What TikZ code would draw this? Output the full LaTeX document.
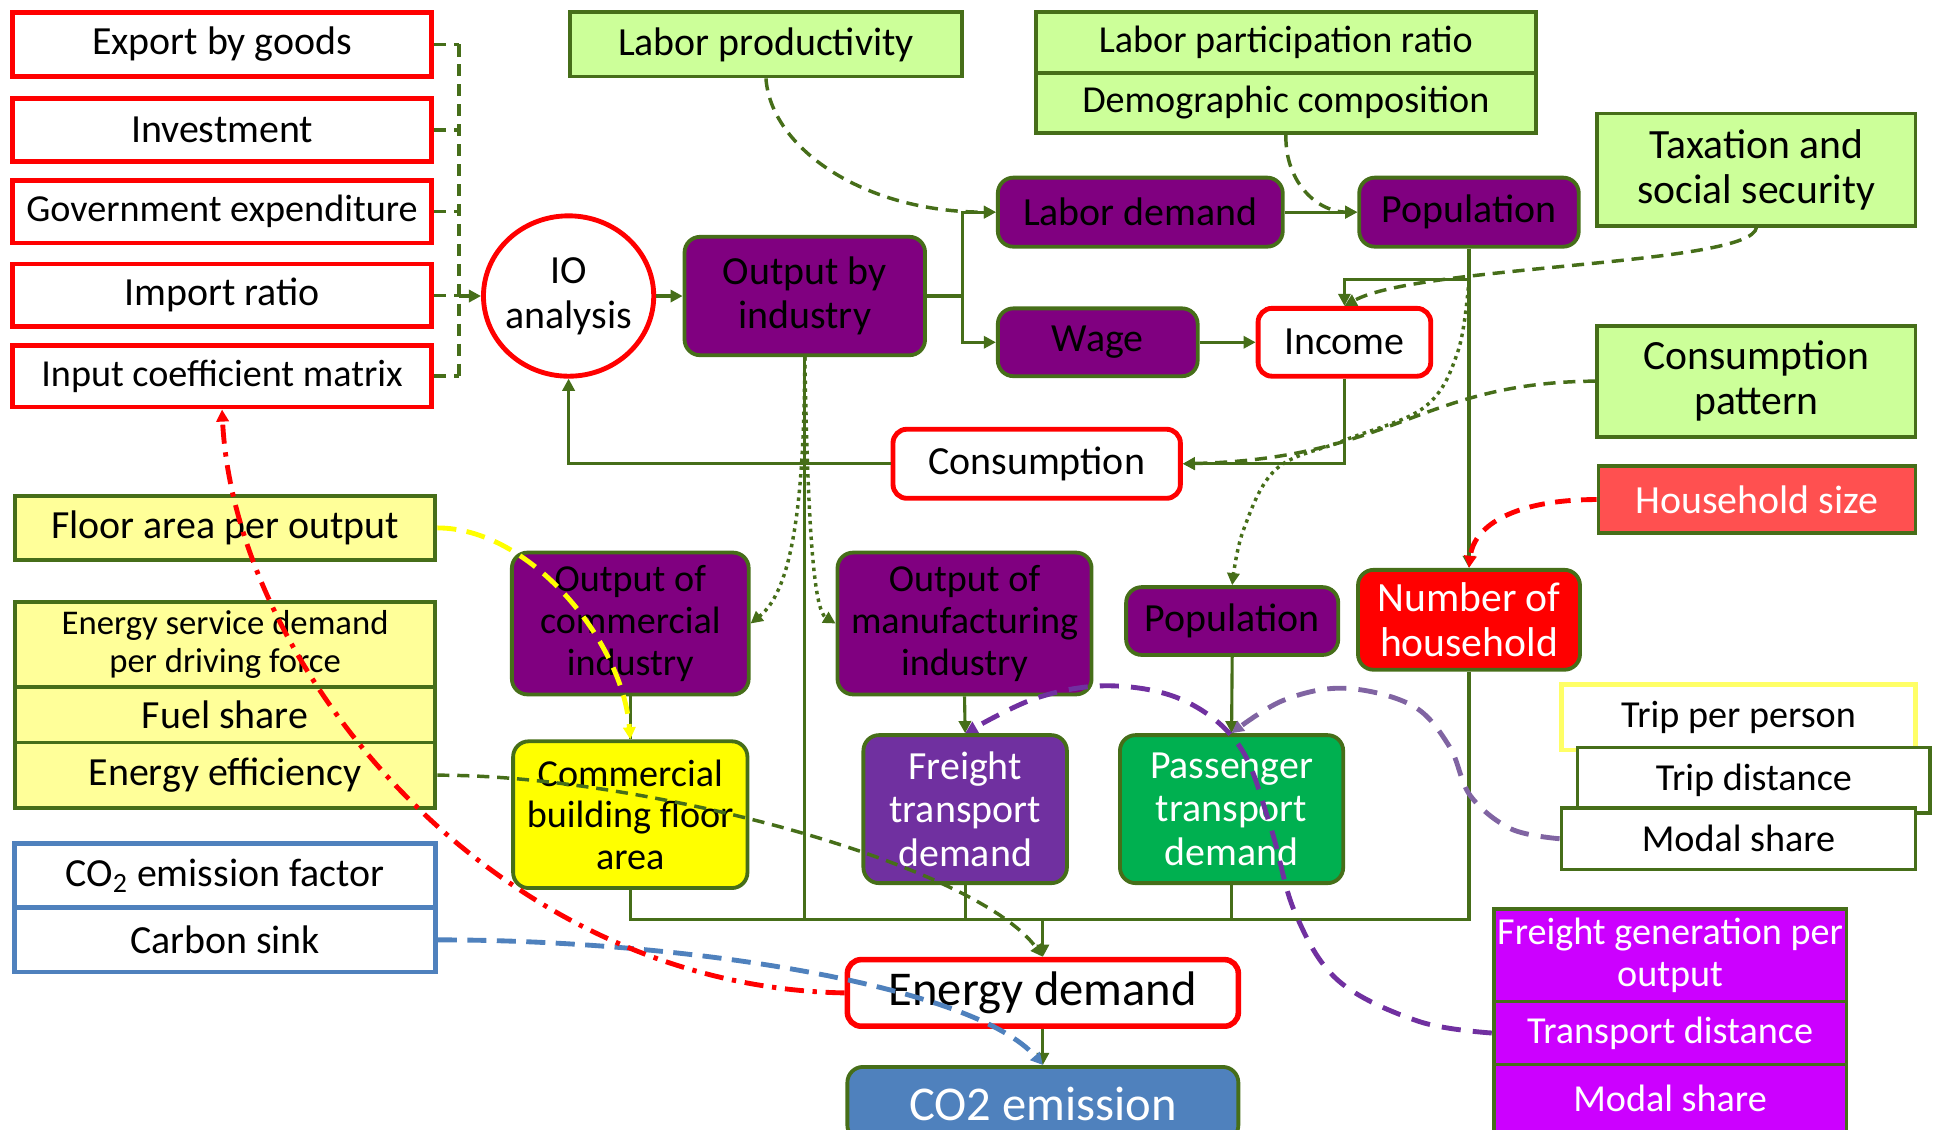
\documentclass[tikz,border=0pt]{standalone}
\usepackage{fontspec}
\setmainfont{Carlito}
\usetikzlibrary{arrows.meta,shapes.geometric}
\definecolor{lg}{RGB}{70,110,25}
\definecolor{lgfill}{HTML}{CCFF99}
\definecolor{purp}{HTML}{800080}
\definecolor{ly}{HTML}{FFFF99}
\definecolor{yel}{HTML}{FFFF00}
\definecolor{frp}{HTML}{7030A0}
\definecolor{psg}{HTML}{00B050}
\definecolor{mag}{HTML}{CC00FF}
\definecolor{hhs}{HTML}{FF5050}
\definecolor{rd}{HTML}{FF0000}
\definecolor{blu}{HTML}{4F81BD}
\definecolor{lpur}{HTML}{8064A2}
\definecolor{tpy}{HTML}{FFFF66}
% #1 style, #2 name, #3 x1, #4 y1, #5 x2, #6 y2, #7 text
\newcommand\mkbox[7]{%
  \node[#1, minimum width={(#5-#3)*0.025cm}, minimum height={(#6-#4)*0.025cm}]
    (#2) at ({(#3+#5)/2},{(#4+#6)/2}) {#7};}
\begin{document}
\begin{tikzpicture}[x=0.025cm, y=-0.025cm,
  base/.style={inner sep=0pt, align=center, font=\fontsize{23}{25}\selectfont, text=black},
  fsmall/.style={font=\fontsize{20}{22}\selectfont},
  fmid/.style={font=\fontsize{22}{24}\selectfont},
  fbig/.style={font=\fontsize{24}{26}\selectfont},
  fhuge/.style={font=\fontsize{28}{30}\selectfont},
  redsq/.style={base, draw=rd, line width=2.8pt, fill=white},
  redrd/.style={redsq, rounded corners=8pt},
  gsq/.style={base, draw=lg, line width=2.2pt},
  grd/.style={gsq, rounded corners=9pt},
  lgbox/.style={gsq, fill=lgfill},
  lybox/.style={gsq, fill=ly},
  blbox/.style={base, draw=blu, line width=2.8pt, fill=white},
  purbox/.style={grd, fill=purp},
  magbox/.style={gsq, fill=mag, text=white, fmid},
  conn/.style={draw=lg, line width=1.8pt},
  tip/.style={-{Triangle[length=7pt,width=7pt]}},
  dsh/.style={conn, line width=2pt, dash pattern=on 7pt off 4.5pt},
  dots/.style={conn, line width=2pt, dash pattern=on 2pt off 2.5pt},
  ydash/.style={draw=yel, line width=2.8pt, dash pattern=on 11pt off 6pt},
  bdash/.style={draw=blu, line width=2.8pt, dash pattern=on 11pt off 6pt},
  rdd/.style={draw=rd, line width=2.8pt, dash pattern=on 11pt off 5pt on 2.5pt off 5pt},
  rdash/.style={draw=rd, line width=2.8pt, dash pattern=on 9pt off 6pt},
  pdash/.style={draw=frp, line width=2.8pt, dash pattern=on 11pt off 7pt},
  lpdash/.style={draw=lpur, line width=2.8pt, dash pattern=on 11pt off 7pt}
]
\useasboundingbox (0,0) rectangle (1568,916);

% ---------- nodes ----------
\mkbox{redsq}{exp}{10}{10}{350}{62}{Export by goods}
\mkbox{redsq}{inv}{10}{80}{350}{131}{Investment}
\mkbox{redsq,fmid}{gov}{10}{146}{350}{197}{Government expenditure}
\mkbox{redsq}{imp}{10}{214}{350}{265}{Import ratio}
\mkbox{redsq,fmid}{icm}{10}{280}{350}{330}{Input coefficient matrix}
\node[ellipse, draw=rd, line width=2.8pt, fill=white, inner sep=0pt, minimum width=3.45cm, minimum height=3.25cm] (io) at (461,240) {};
\node[base, font=\fontsize{23}{26}\selectfont] (iot) at (io.center) {IO\\analysis};
\mkbox{purbox}{obi}{555}{192}{750}{288}{Output by\\industry}
\mkbox{lgbox}{lp}{462}{10}{780}{62}{Labor productivity}
\mkbox{lgbox,fmid}{lpr}{840}{10}{1245}{59}{Labor participation ratio}
\mkbox{lgbox,fmid}{dc}{840}{59}{1245}{108}{Demographic composition}
\mkbox{purbox}{ld}{809}{144}{1040}{200}{Labor demand}
\mkbox{purbox}{pop1}{1102}{144}{1280}{200}{Population}
\mkbox{purbox}{wage}{809}{250}{971}{305}{Wage}
\mkbox{redrd}{inc}{1020}{250}{1160}{305}{Income}
\mkbox{lgbox,fbig}{tax}{1295}{92}{1553}{183}{Taxation and\\social security}
\mkbox{lgbox,fbig}{cp}{1295}{264}{1553}{354}{Consumption\\pattern}
\mkbox{gsq,fill=hhs,text=white}{hs}{1296}{378}{1553}{432}{Household size}
\mkbox{redrd}{cons}{724}{348}{957}{404}{Consumption}
\mkbox{grd,fill=rd,text=white,fbig}{nh}{1101}{462}{1281}{543}{Number of\\household}
\mkbox{lybox}{fa}{12}{402}{353}{454}{Floor area per output}
\mkbox{lybox,fsmall}{esd}{12}{488}{353}{557}{Energy service demand\\per driving force}
\mkbox{lybox}{fs}{12}{557}{353}{602}{Fuel share}
\mkbox{lybox}{ee}{12}{602}{353}{655}{Energy efficiency}
\mkbox{blbox}{cef}{12}{684}{353}{736}{CO\textsubscript{2} emission factor}
\mkbox{blbox}{cs}{12}{736}{353}{788}{Carbon sink}
\mkbox{purbox,fmid}{ocomm}{415}{448}{607}{563}{Output of\\commercial\\industry}
\mkbox{purbox,fmid}{omfg}{679}{448}{885}{563}{Output of\\manufacturing\\industry}
\mkbox{purbox}{pop2}{913}{476}{1085}{531}{Population}
\mkbox{grd,fill=yel,fmid}{cb}{416}{601}{606}{720}{Commercial\\building floor\\area}
\mkbox{grd,fill=frp,text=white}{fr}{700}{596}{865}{716}{Freight\\transport\\demand}
\mkbox{grd,fill=psg,text=white}{pass}{908}{596}{1089}{716}{Passenger\\transport\\demand}
\mkbox{base,fmid,draw=tpy,line width=2.5pt,fill=white}{tpp}{1266}{555}{1553}{608}{Trip per person}
\mkbox{gsq,fmid,fill=white}{td}{1279}{606}{1565}{659}{Trip distance}
\mkbox{gsq,fmid,fill=white}{ms1}{1266}{655}{1553}{705}{Modal share}
\mkbox{magbox}{fgo}{1211}{737}{1497}{812}{Freight generation per\\output}
\mkbox{magbox}{tdist}{1211}{812}{1497}{863}{Transport distance}
\mkbox{magbox}{ms2}{1211}{863}{1497}{918}{Modal share}
\mkbox{redrd,line width=3.2pt,fhuge}{ed}{687}{778}{1004}{832}{Energy demand}
\mkbox{grd,fill=blu,text=white,fhuge}{co2}{687}{865}{1004}{925}{CO2 emission}

% ---------- helper coordinates ----------
\path (exp.east) ++(20,0) coordinate (lbus);
\path (obi.east) ++(29,0) coordinate (split);
\path (pop1.south) ++(0,25) coordinate (pj);
\path (ed.north) ++(0,-30) coordinate (bus);

% ---------- solid connectors ----------
\draw[conn,tip] (io.east) -- (obi.west);
\draw[conn] (obi.east) -- (split);
\draw[conn,tip] (split) |- (ld.west);
\draw[conn,tip] (split) |- (wage.west);
\draw[conn,tip] (ld.east) -- (pop1.west);
\draw[conn,tip] (wage.east) -- (inc.west);
\draw[conn,tip] (pop1.south) -- (nh.north);
\draw[conn,tip] (pj) -| (inc.north);
\draw[conn,tip] (inc.south) |- (cons.east);
\draw[conn,tip] (cons.west) -| (io.south);
\draw[conn] (obi.south) -- (obi.south |- bus);
\draw[conn] (cb.south) -- (cb.south |- bus) -- (nh.south |- bus) -- (nh.south);
\draw[conn] (fr.south) -- (fr.south |- bus);
\draw[conn] (pass.south) -- (pass.south |- bus);
\draw[conn,tip] (ed.north |- bus) -- (ed.north);
\draw[conn,tip] (ed.south) -- (co2.north);
\draw[conn] (ocomm.south) -- (cb.north);
\draw[conn,tip] (omfg.south) -- (fr.north);
\draw[conn,tip] (pop2.south) -- (pass.north);

% ---------- left dashed bus ----------
\foreach \n in {exp,inv,gov,imp,icm}{
  \draw[dsh] (\n.east) -- (\n.east -| lbus);
}
\draw[dsh] (lbus |- exp.east) -- (lbus |- icm.east);
\draw[dsh,tip] (lbus |- io.west) -- (io.west);

% ---------- dashed / dotted influences ----------
\draw[dsh,tip] (lp.south) .. controls (625,120) and (700,172) .. (ld.west);
\draw[dsh,tip] (dc.south) .. controls (1042,150) and (1070,172) .. (pop1.west);
\draw[dsh,tip] (tax.south) .. controls (1420,215) and (1150,215) .. (inc.north);
\draw[dsh,tip] (cp.west) .. controls (1150,310) and (1130,372) .. (cons.east);
\draw[dots,tip] (obi.south) .. controls (652,420) and (640,480) .. (ocomm.east);
\draw[dots,tip] (obi.south) .. controls (655,430) and (660,495) .. (omfg.west);
\draw[dots,tip] plot[smooth, tension=0.6] coordinates {(pj) (1182,285) (1155,330) (1090,357) (1035,380) (1008,430) (pop2.north)};
\draw[rdash,tip] (hs.west) .. controls (1230,405) and (1195,425) .. (nh.north);
\draw[ydash,tip] (fa.east) .. controls (430,428) and (505,520) .. (cb.north);
\draw[dsh,tip] (ee.east) .. controls (520,628) and (790,700) .. (ed.north);
\draw[bdash,tip] (cs.east) .. controls (560,762) and (790,800) .. (co2.north);
\draw[rdd,tip] (ed.west) .. controls (400,800) and (190,540) .. (icm.south);
\draw[pdash,tip] plot[smooth, tension=0.6] coordinates {(tdist.west) (1150,828) (1085,795) (1050,740) (1030,670) (1005,605) (960,568) (900,556) (840,566) (fr.north)};
\draw[lpdash,tip] plot[smooth, tension=0.6] coordinates {(ms1.west) (1225,672) (1192,645) (1175,605) (1145,572) (1090,558) (1040,568) (pass.north)};
\end{tikzpicture}
\end{document}
